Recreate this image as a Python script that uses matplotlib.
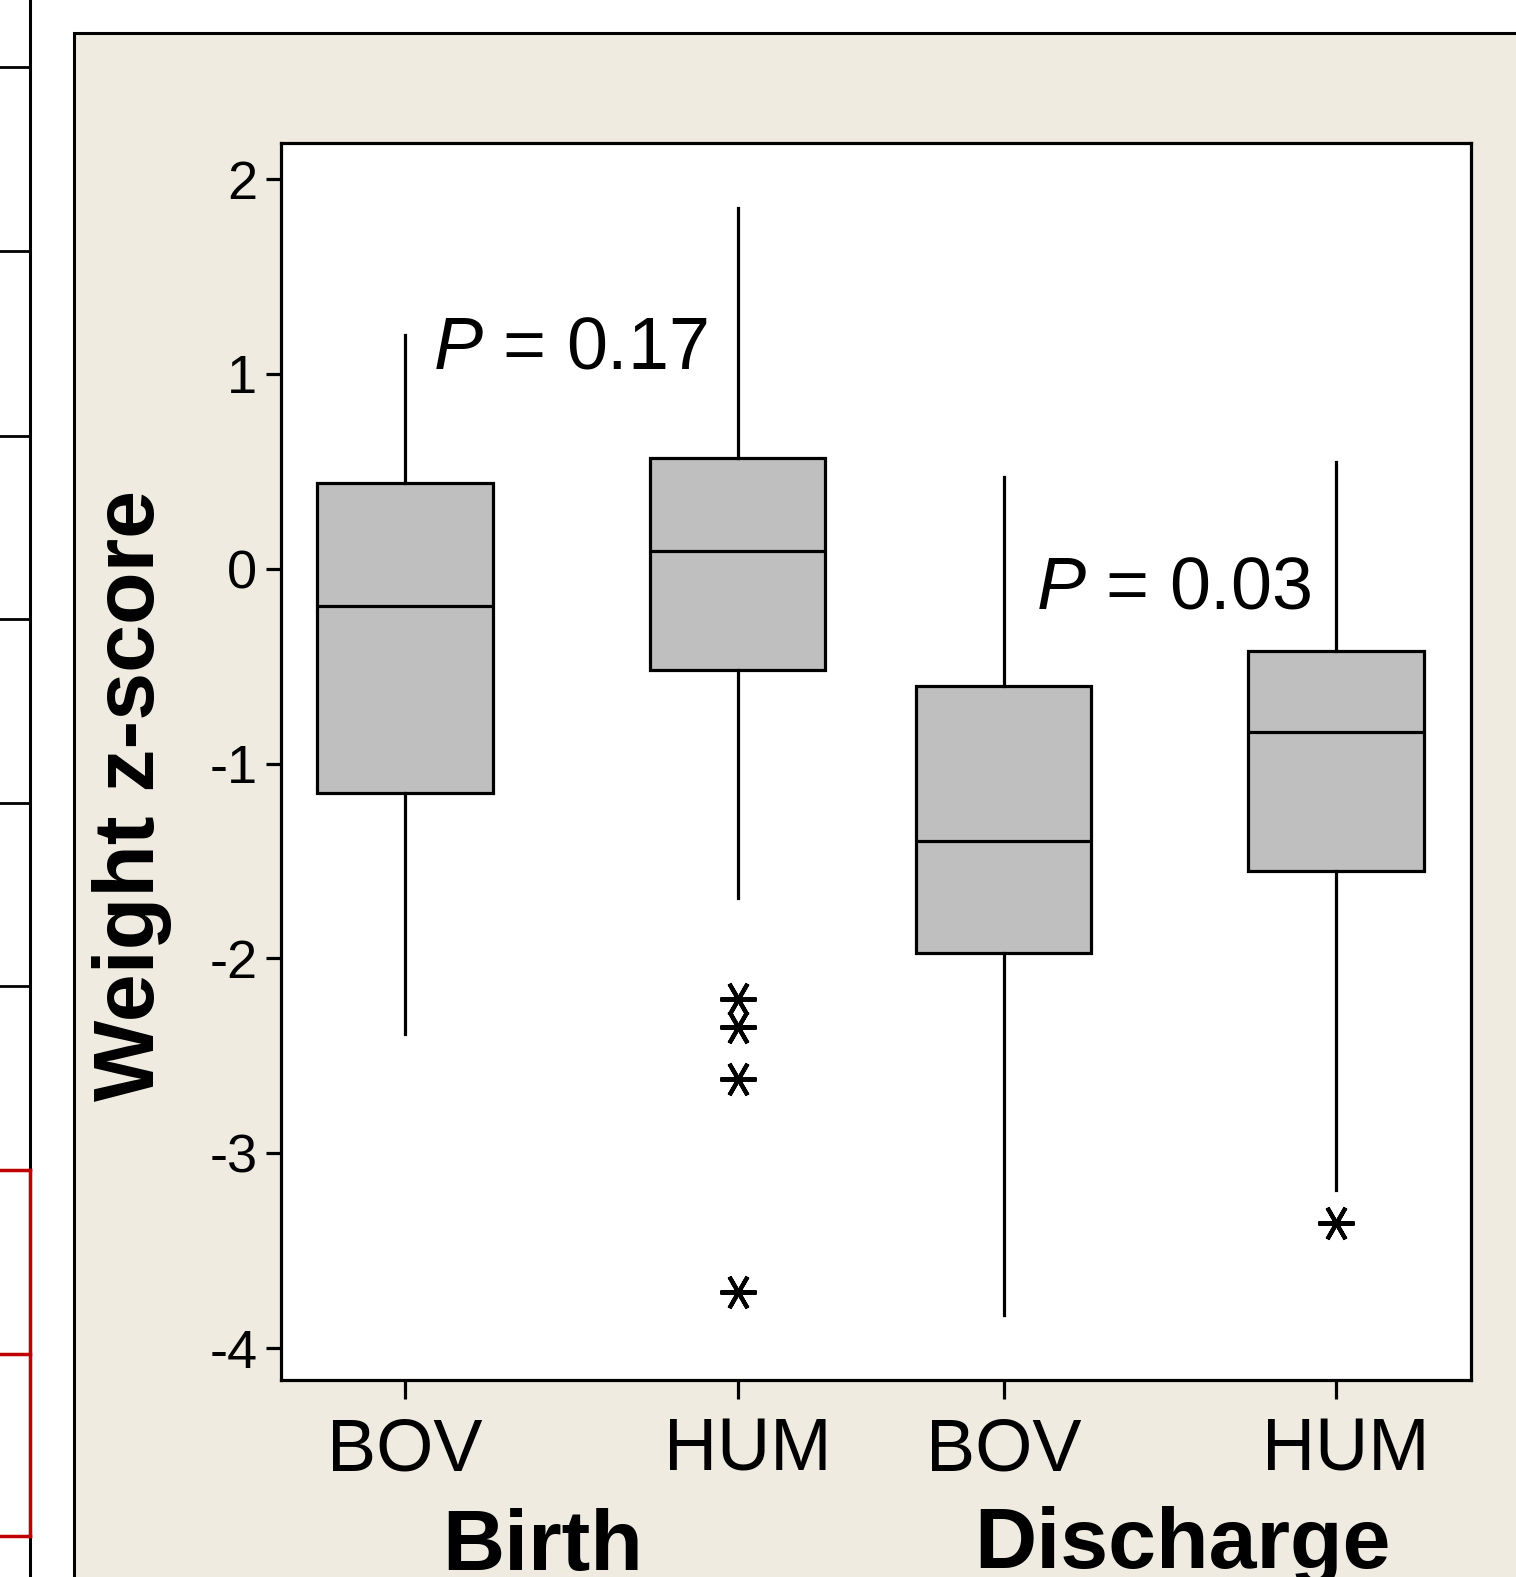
import matplotlib.pyplot as plt
import matplotlib.transforms as mtransforms
import numpy as np

plt.rcParams['font.family'] = ['Liberation Sans', 'DejaVu Sans']
plt.rcParams['mathtext.fontset'] = 'custom'
plt.rcParams['mathtext.it'] = 'Liberation Sans:italic'
plt.rcParams['mathtext.rm'] = 'Liberation Sans'

# Dados (z-score de peso)
labels = ['BOV', 'HUM', 'BOV', 'HUM']
whisker_high = [1.20, 1.85, 0.47, 0.55]
q3 = [0.44, 0.57, -0.60, -0.42]
median = [-0.19, 0.09, -1.40, -0.84]
q1 = [-1.15, -0.52, -1.97, -1.55]
whisker_low = [-2.39, -1.69, -3.83, -3.19]
outliers = [[], [-2.21, -2.35, -2.62, -3.71], [], [-3.36]]
groups = ['Birth', 'Discharge']
p_values = ['0.17', '0.03']

W, H = 1516, 1577
fig = plt.figure(figsize=(W / 100, H / 100), dpi=100, facecolor='white')

# fundo / moldura em coordenadas de pixel
bg = fig.add_axes([0, 0, 1, 1], zorder=0)
bg.set_xlim(0, W)
bg.set_ylim(H, 0)
bg.axis('off')
bg.add_patch(plt.Rectangle((74, 33), W, H, facecolor='#efebe1', edgecolor='black', lw=2.2))
bg.plot([30, 30], [0, H], color='black', lw=2.2)
for yy in [67, 251, 436, 619, 803, 986]:
    bg.plot([0, 30], [yy, yy], color='black', lw=2)
for yy in [1170, 1354, 1536]:
    bg.plot([0, 30], [yy, yy], color='#c00000', lw=2.5)
bg.plot([30, 30], [1170, 1536], color='#c00000', lw=2.5)

ax = fig.add_axes([281 / W, 1 - 1380 / H, (1471 - 281) / W, (1380 - 143) / H], zorder=1)
ax.set_facecolor('white')

positions = [1, 2, 2.8, 3.8]
stats = []
for i in range(4):
    stats.append(dict(med=median[i], q1=q1[i], q3=q3[i], whislo=whisker_low[i],
                      whishi=whisker_high[i], fliers=outliers[i]))

ax.bxp(stats, positions=positions, widths=0.527, patch_artist=True, showcaps=False,
       boxprops=dict(facecolor='#bfbfbf', edgecolor='black', linewidth=2.3),
       medianprops=dict(color='black', linewidth=2.3),
       whiskerprops=dict(color='black', linewidth=2.3),
       flierprops=dict(marker=(6, 2, 90), markersize=26, markeredgewidth=3,
                       markeredgecolor='black', linestyle='none'))

ax.set_xlim(0.627, 4.206)
ax.set_ylim(-4.164, 2.185)
ax.set_xticks(positions)
ax.set_xticklabels(labels, fontsize=53)
ax.set_yticks([-4, -3, -2, -1, 0, 1, 2])
ax.set_yticklabels(['-4', '-3', '-2', '-1', '0', '1', '2'], fontsize=39)
ax.tick_params(axis='x', length=14, width=2.3, pad=12)
ax.tick_params(axis='y', length=11, width=2.3, pad=6)
for s in ax.spines.values():
    s.set_linewidth(2.3)

# os rótulos HUM ficam um pouco à direita do tick no original
for lab in ax.get_xticklabels():
    if lab.get_text() == 'HUM':
        lab.set_transform(lab.get_transform() + mtransforms.ScaledTranslation(10 / 100, 0, fig.dpi_scale_trans))

ax.text(1.085, 1.03, '$P$ = ' + p_values[0], fontsize=53, ha='left', va='baseline')
ax.text(2.897, -0.206, '$P$ = ' + p_values[1], fontsize=53, ha='left', va='baseline')

bg.text(132, 795, 'Weight z-score', rotation=90, fontsize=62, fontweight='bold',
        ha='center', va='center')
bg.text(543, 1570, groups[0], fontsize=62, fontweight='bold', ha='center', va='baseline')
bg.text(1182, 1568, groups[1], fontsize=62, fontweight='bold', ha='center', va='baseline')

fig.savefig('out.png', dpi=100, facecolor='white')
